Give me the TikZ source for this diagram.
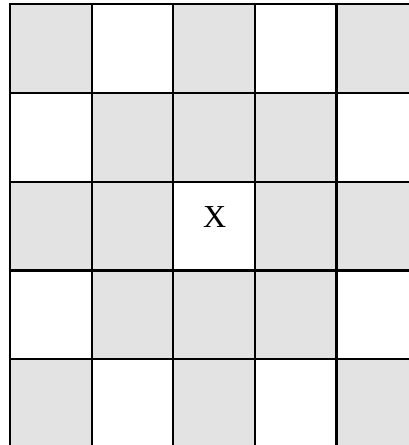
\documentclass[tikz,border=0pt]{standalone}
\usepackage{fontspec}
\setmainfont{Liberation Serif}
\definecolor{cellgray}{RGB}{227,227,227}
\begin{document}
\begin{tikzpicture}[x=1pt, y=-1pt,
    cell/.style={fill=cellgray},
    gridline/.style={line width=2.2pt, draw=black, line cap=rect},
    letter/.style={font=\fontsize{32}{34}\selectfont, inner sep=0pt}
  ]
  \useasboundingbox (0,0) rectangle (409,445);
  \clip (0,0) rectangle (409,445);
  % shaded squares (column/row)
  \foreach \c/\r in {0/0,2/0,4/0, 1/1,2/1,3/1, 0/2,1/2,3/2,4/2, 1/3,2/3,3/3, 0/4,2/4,4/4}
    \fill[cell] (10+81.6*\c, 4+88.8*\r) rectangle ++(81.6, 88.8);
  % grid lines
  \foreach \i in {0,...,5} {
    \draw[gridline] (10+81.6*\i, 4) -- (10+81.6*\i, 448);
    \draw[gridline] (10, 4+88.8*\i) -- (418, 4+88.8*\i);
  }
  \node[letter] (centre) at (214.6, 217) {X};
\end{tikzpicture}
\end{document}
